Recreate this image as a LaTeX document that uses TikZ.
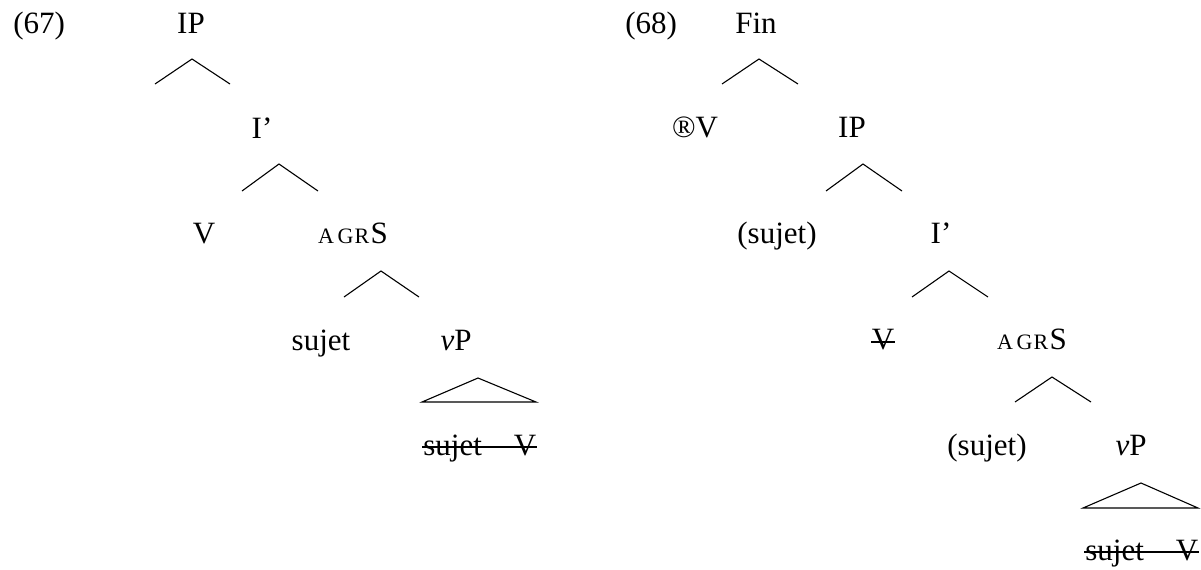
\documentclass[tikz,border=0pt]{standalone}
\usepackage{fontspec}
\setmainfont{Liberation Serif}
\usetikzlibrary{calc}
\newcommand{\agrs}{{\fontsize{11pt}{12pt}\selectfont A\kern1.8pt G\kern0.6pt R\kern0.7pt}S}
\begin{document}
\begin{tikzpicture}[x=0.5pt,y=-0.5pt,
  lbl/.style={inner sep=0pt, anchor=base, font=\fontsize{15.5pt}{18pt}\selectfont},
  exnum/.style={lbl, anchor=base west},
  branch/.style={line width=0.55pt},
  strike/.style={line width=1.1pt}]
\useasboundingbox (0,0) rectangle (1201,569);

% ---------- (67) ----------
\node[exnum] (ex67) at (13,33) {(67)};
\node[lbl] (ipL) at (191,33) {IP};
\node[lbl] (ibarL) at (262,138) {I’};
\node[lbl] (vL) at (204,243) {V};
\node[lbl] (agrL) at (353,243) {\agrs};
\node[lbl] (sujL) at (321,350) {sujet};
\node[lbl] (vpL) at (456,350) {\textit{v}P};
\node[lbl, anchor=base west] (strL) at (423,455) {sujet\hspace{16pt}V};

\coordinate (a1) at (192,59);  \coordinate (a1l) at (155,84);  \coordinate (a1r) at (230,84);
\coordinate (a2) at (279,164); \coordinate (a2l) at (242,191); \coordinate (a2r) at (318,191);
\coordinate (a3) at (381,271); \coordinate (a3l) at (344,297); \coordinate (a3r) at (419,297);
\coordinate (t1) at (478,378); \coordinate (t1l) at (422,402); \coordinate (t1r) at (536,402);
\draw[branch] (a1l) -- (a1) -- (a1r);
\draw[branch] (a2l) -- (a2) -- (a2r);
\draw[branch] (a3l) -- (a3) -- (a3r);
\draw[branch] (t1l) -- (t1) -- (t1r) -- cycle;
\draw[strike] ($(strL.base west)+(-1,-8)$) -- ($(strL.base east)+(0,-8)$);

% ---------- (68) ----------
\node[exnum] (ex68) at (625,33) {(68)};
\node[lbl] (fin) at (756,33) {Fin};
\node[lbl] (rv) at (695,137) {®V};
\node[lbl] (ipR) at (852,137) {IP};
\node[lbl] (sujR1) at (777,243) {(sujet)};
\node[lbl] (ibarR) at (941,243) {I’};
\node[lbl] (vR) at (883,349) {V};
\node[lbl] (agrR) at (1032,349) {\agrs};
\node[lbl] (sujR2) at (987,455) {(sujet)};
\node[lbl] (vpR) at (1131,455) {\textit{v}P};
\node[lbl, anchor=base west] (strR) at (1085,560) {sujet\hspace{16pt}V};

\coordinate (b1) at (759,59);   \coordinate (b1l) at (722,84);   \coordinate (b1r) at (798,84);
\coordinate (b2) at (863,164);  \coordinate (b2l) at (826,191);  \coordinate (b2r) at (902,191);
\coordinate (b3) at (949,271);  \coordinate (b3l) at (912,297);  \coordinate (b3r) at (988,297);
\coordinate (b4) at (1052,377); \coordinate (b4l) at (1015,402); \coordinate (b4r) at (1091,402);
\coordinate (t2) at (1141,483); \coordinate (t2l) at (1083,508); \coordinate (t2r) at (1198,508);
\draw[branch] (b1l) -- (b1) -- (b1r);
\draw[branch] (b2l) -- (b2) -- (b2r);
\draw[branch] (b3l) -- (b3) -- (b3r);
\draw[branch] (b4l) -- (b4) -- (b4r);
\draw[branch] (t2l) -- (t2) -- (t2r) -- cycle;
\draw[strike] ($(strR.base west)+(-1,-8)$) -- ($(strR.base east)+(0,-8)$);
\draw[strike] ($(vR.base west)+(0,-7)$) -- ($(vR.base east)+(0,-7)$);
\end{tikzpicture}
\end{document}
